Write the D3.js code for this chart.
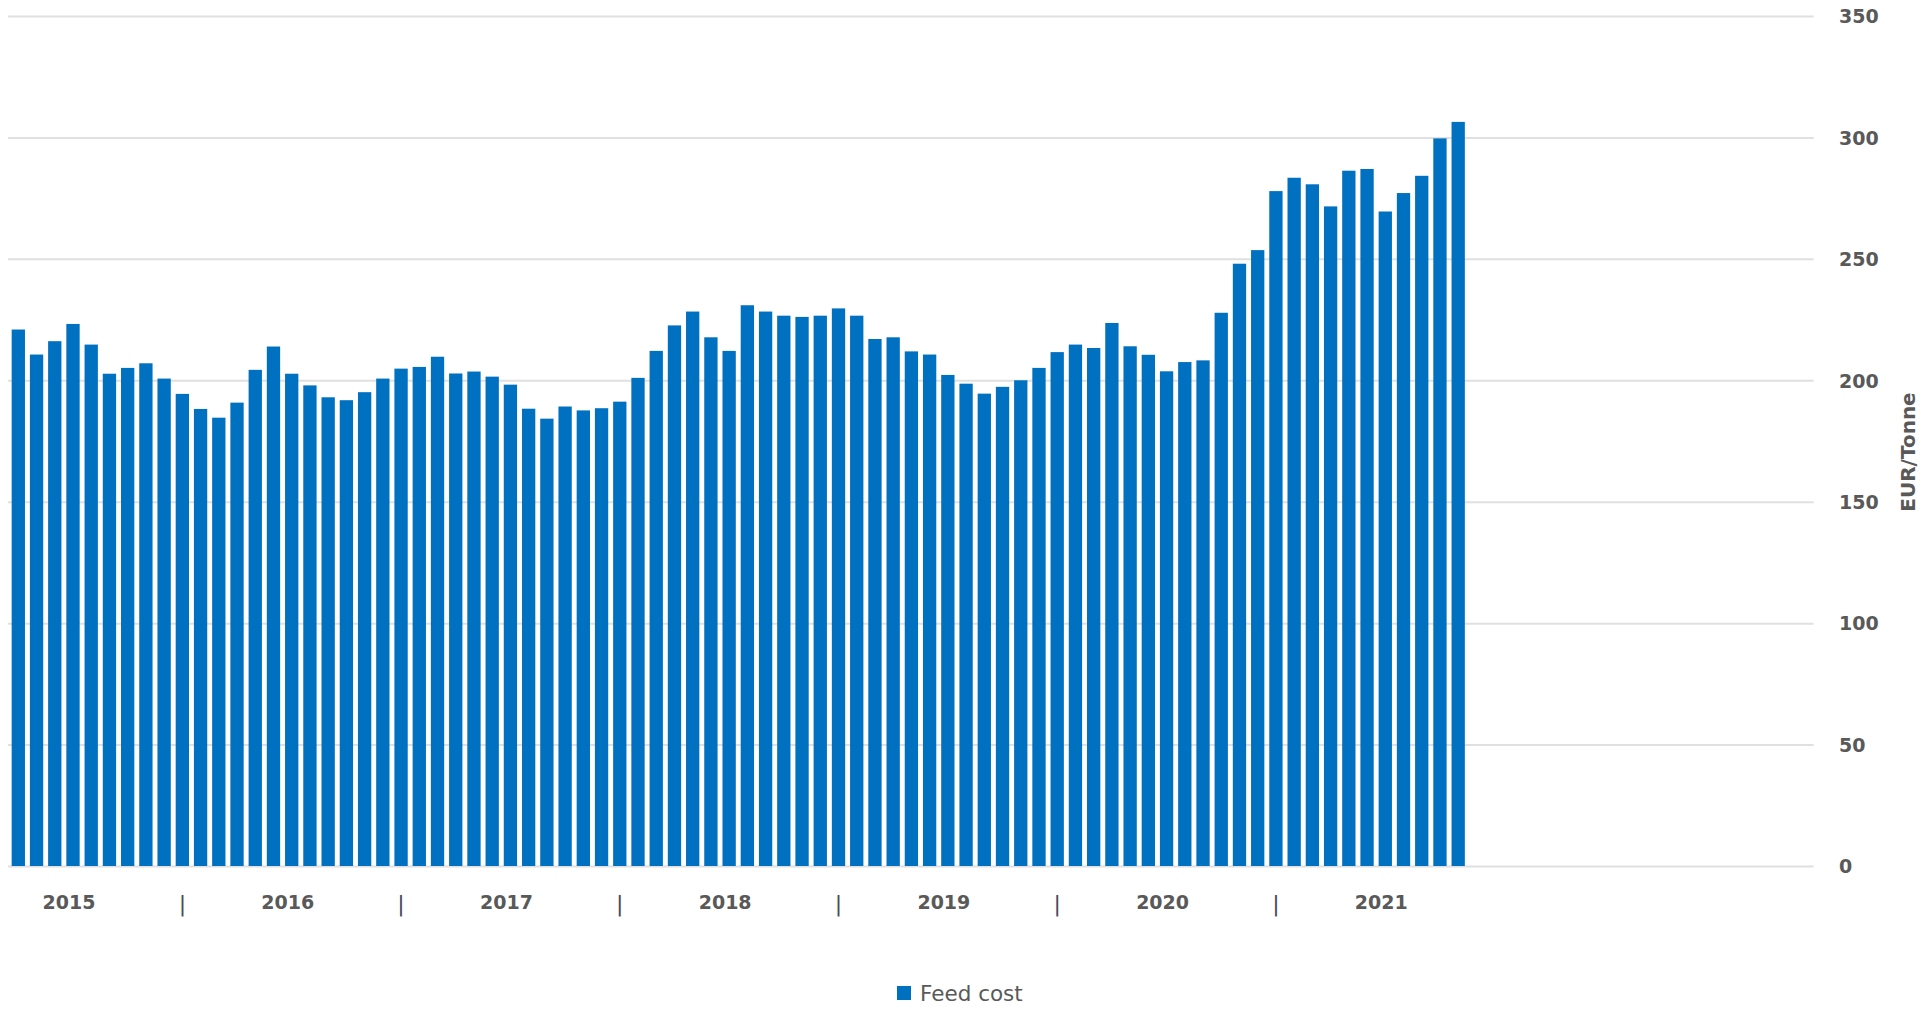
<!DOCTYPE html>
<html>
<head>
<meta charset="utf-8">
<script src="https://cdn.jsdelivr.net/npm/d3@7"></script>
<style>
  html, body { margin: 0; padding: 0; background: #ffffff; overflow: hidden; }
  svg { display: block; }
</style>
</head>
<body>
<svg id="chart" width="1921" height="1009"></svg>
<script>
// ---- Data ----
// Monthly categories: first month shown and last month of the axis
const firstMonth = new Date(2015, 3, 1);   // Apr 2015
const endMonth = new Date(2023, 6, 1);     // axis runs through Jun 2023 (empty slots after data)
const categories = d3.timeMonth.range(firstMonth, endMonth).map(d3.timeFormat("%Y-%m"));

const seriesName = "Feed cost";
const feedCost = [
  220.9, 210.6, 216.1, 223.2, 214.7, 202.7, 205.1, 207.0, 200.7,            // Apr–Dec 2015
  194.4, 188.2, 184.6, 190.8, 204.3, 213.9, 202.7, 197.9, 193.0, 191.8, 195.1, 200.7, // 2016
  204.8, 205.5, 209.7, 202.8, 203.6, 201.5, 198.2, 188.3, 184.2, 189.2, 187.6, 188.5, // 2017
  191.2, 201.0, 212.1, 222.6, 228.3, 217.7, 212.1, 230.9, 228.3, 226.6, 226.1, 226.6, // 2018
  229.6, 226.6, 217.0, 217.7, 211.9, 210.6, 202.2, 198.6, 194.5, 197.3, 200.0, 205.1, // 2019
  211.6, 214.7, 213.3, 223.6, 214.0, 210.5, 203.7, 207.5, 208.2, 227.8, 248.0, 253.6, // 2020
  277.9, 283.4, 280.7, 271.6, 286.3, 287.0, 269.5, 277.1, 284.2, 299.6, 306.4         // 2021
];

const yearLabels = ["2015", "2016", "2017", "2018", "2019", "2020", "2021"];
const separatorYears = ["2016", "2017", "2018", "2019", "2020", "2021"];
const yTicks = [0, 50, 100, 150, 200, 250, 300, 350];
const yTitle = "EUR/Tonne";

// ---- Layout ----
const svg = d3.select("#chart");
const plotLeft = 9.2, plotRight = 1813.6, plotTop = 16, plotBottom = 866;
const barColor = "#0070C0";
const textColor = "#595959";

const x = d3.scaleBand()
  .domain(categories)
  .range([plotLeft, plotRight])
  .paddingInner(0.27)
  .paddingOuter(0.135);

const y = d3.scaleLinear()
  .domain([0, 350])
  .range([plotBottom, plotTop]);

// Gridlines
const grid = svg.append("g")
  .attr("transform", `translate(${plotRight},0)`)
  .call(d3.axisLeft(y).tickValues(yTicks).tickSize(plotRight - 8).tickFormat(""));
grid.select(".domain").remove();
grid.selectAll(".tick line").attr("stroke", "#e0e0e0").attr("stroke-width", 2);

// Right axis labels
const yAxis = svg.append("g")
  .attr("transform", `translate(1839,0)`)
  .call(d3.axisRight(y).tickValues(yTicks).tickSize(0).tickPadding(0));
yAxis.select(".domain").remove();
yAxis.selectAll("text")
  .attr("x", 0)
  .attr("dy", "0.36em")
  .attr("text-anchor", "start")
  .style("font-family", "'DejaVu Sans', sans-serif")
  .style("font-weight", "bold")
  .style("font-size", "19px")
  .attr("fill", textColor);

// Bars
svg.append("g")
  .selectAll("rect")
  .data(feedCost)
  .join("rect")
  .attr("x", (d, i) => x(categories[i]))
  .attr("width", x.bandwidth())
  .attr("y", d => y(d))
  .attr("height", d => y(0) - y(d))
  .attr("fill", barColor);

// Bottom axis: year labels at July of each year
const julyTicks = yearLabels.map(yr => yr + "-07");
const xAxisYears = svg.append("g")
  .attr("transform", `translate(0,${plotBottom})`)
  .call(d3.axisBottom(x).tickValues(julyTicks).tickSize(0).tickFormat(d => d.slice(0, 4)));
xAxisYears.select(".domain").remove();
xAxisYears.selectAll("text")
  .attr("y", 43)
  .attr("dy", 0)
  .attr("dx", -4)
  .style("font-family", "'DejaVu Sans', sans-serif")
  .style("font-weight", "bold")
  .style("font-size", "19px")
  .attr("fill", textColor);

// Bottom axis: separators at January of each year
const janTicks = separatorYears.map(yr => yr + "-01");
const xAxisSep = svg.append("g")
  .attr("transform", `translate(0,${plotBottom})`)
  .call(d3.axisBottom(x).tickValues(janTicks).tickSize(0).tickFormat(() => "|"));
xAxisSep.select(".domain").remove();
xAxisSep.selectAll("text")
  .attr("y", 45)
  .attr("dy", 0)
  .style("font-family", "'DejaVu Sans', sans-serif")
  .style("font-size", "22px")
  .attr("fill", "#4a4a5a");

// Y axis title at the right edge
svg.append("text")
  .attr("transform", `translate(1915,452) rotate(-90)`)
  .attr("text-anchor", "middle")
  .style("font-family", "'DejaVu Sans', sans-serif")
  .style("font-weight", "bold")
  .style("font-size", "20px")
  .attr("fill", textColor)
  .text(yTitle);

// Legend
const legend = svg.append("g");
legend.append("rect")
  .attr("x", 897).attr("y", 986)
  .attr("width", 14).attr("height", 14)
  .attr("fill", barColor);
legend.append("text")
  .attr("x", 920).attr("y", 1001)
  .style("font-family", "'DejaVu Sans', sans-serif")
  .style("font-size", "21.5px")
  .attr("fill", textColor)
  .text(seriesName);
</script>
</body>
</html>
